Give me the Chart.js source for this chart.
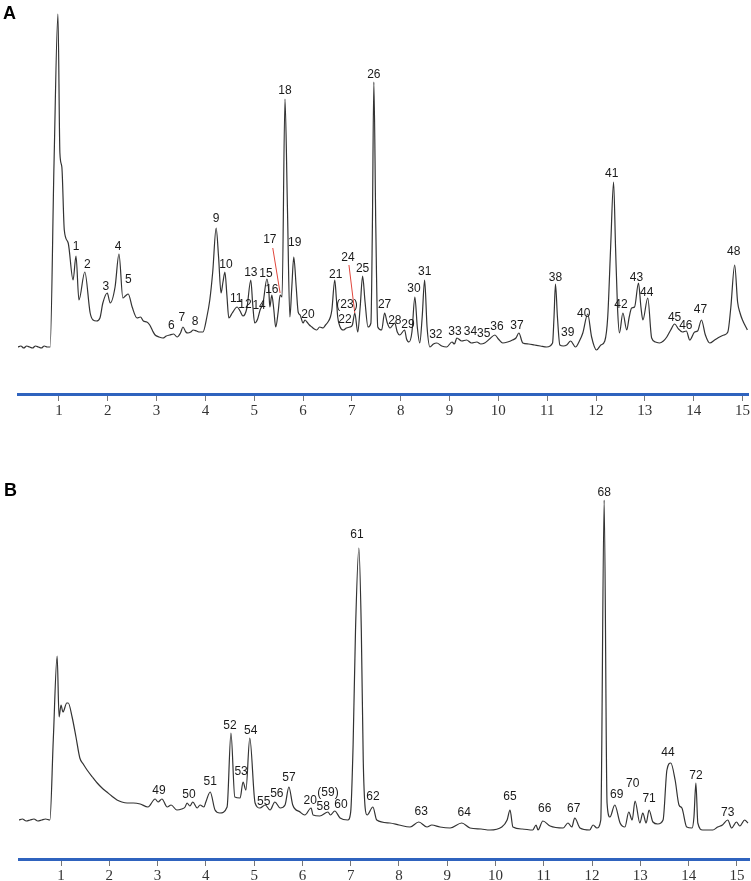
<!DOCTYPE html>
<html>
<head>
<meta charset="utf-8">
<script src="https://cdn.jsdelivr.net/npm/chart.js@4.4.1/dist/chart.umd.min.js"></script>
<style>
  body { margin: 0; background: #fff; }
  #wrap { position: relative; width: 751px; height: 881px; overflow: hidden; }
  canvas { position: absolute; left: 0; }
  .panel { position: absolute; font: bold 18px "Liberation Sans", Arial, sans-serif; color: #000; }
</style>
</head>
<body>
<div id="wrap">
  <canvas id="chartA" width="751" height="421" style="top:0"></canvas>
  <canvas id="chartB" width="751" height="426" style="top:460px"></canvas>
  <div class="panel" style="left:3px;top:3px">A</div>
  <div class="panel" style="left:4px;top:480px">B</div>
</div>
<script>
// retention time axis
var xTicks = [1, 2, 3, 4, 5, 6, 7, 8, 9, 10, 11, 12, 13, 14, 15];

// chromatogram A (time in min, signal)
var timeA = [0.16, 0.22, 0.28, 0.34, 0.40, 0.46, 0.52, 0.58, 0.64, 0.70, 0.76, 0.82, 0.90, 0.98, 1.02, 1.06, 1.11, 1.19, 1.29, 1.35,
  1.41, 1.53, 1.64, 1.70, 1.77, 1.84, 1.90, 1.99, 2.05, 2.15, 2.23, 2.31, 2.36, 2.42, 2.50, 2.60, 2.67, 2.73, 2.80, 2.86,
  2.92, 2.97, 3.05, 3.13, 3.20, 3.27, 3.35, 3.42, 3.49, 3.54, 3.60, 3.64, 3.70, 3.75, 3.82, 3.88, 3.95, 4.03, 4.09, 4.15,
  4.22, 4.27, 4.32, 4.36, 4.40, 4.44, 4.48, 4.55, 4.65, 4.71, 4.77, 4.85, 4.93, 4.97, 5.01, 5.07, 5.12, 5.18, 5.26, 5.30,
  5.32, 5.36, 5.40, 5.44, 5.49, 5.53, 5.57, 5.63, 5.68, 5.73, 5.77, 5.81, 5.86, 5.90, 5.94, 6.00, 6.04, 6.08, 6.13, 6.18,
  6.23, 6.28, 6.34, 6.41, 6.46, 6.51, 6.56, 6.59, 6.65, 6.68, 6.71, 6.76, 6.82, 6.89, 6.96, 7.01, 7.06, 7.12, 7.17, 7.22,
  7.27, 7.33, 7.39, 7.42, 7.45, 7.49, 7.53, 7.61, 7.67, 7.72, 7.78, 7.88, 7.93, 7.98, 8.08, 8.12, 8.17, 8.23, 8.29, 8.34,
  8.39, 8.44, 8.49, 8.54, 8.60, 8.67, 8.74, 8.84, 8.94, 9.05, 9.10, 9.15, 9.25, 9.35, 9.45, 9.56, 9.64, 9.72, 9.82, 9.93,
  10.00, 10.09, 10.19, 10.29, 10.36, 10.42, 10.50, 10.62, 10.74, 10.86, 10.99, 11.11, 11.14, 11.17, 11.21, 11.26, 11.33, 11.40, 11.48, 11.58,
  11.66, 11.73, 11.83, 11.91, 12.01, 12.10, 12.18, 12.24, 12.30, 12.36, 12.40, 12.44, 12.48, 12.55, 12.63, 12.68, 12.73, 12.79, 12.87, 12.92,
  12.96, 13.06, 13.14, 13.22, 13.30, 13.38, 13.45, 13.53, 13.61, 13.69, 13.77, 13.85, 13.92, 14.02, 14.08, 14.16, 14.24, 14.33, 14.43, 14.53,
  14.62, 14.70, 14.76, 14.84, 14.90, 14.95, 15.00, 15.10];
var signalA = [0, 1, -1, 1, 0, -1, 1, 0, -1, 1, 0, 0, 184, 333, 194, 180, 117, 104, 67, 91,
  47, 75, 34, 27, 26, 29, 44, 54, 44, 60, 93, 49, 51, 53, 40, 29, 30, 26, 25, 22,
  16, 12, 10, 9, 11, 12, 13, 10, 14, 20, 15, 14, 15, 17, 16, 15, 15, 30, 47, 75,
  119, 90, 54, 65, 75, 52, 29, 34, 40, 36, 31, 39, 67, 42, 24, 28, 37, 44, 68, 55,
  40, 52, 38, 20, 35, 52, 50, 248, 140, 30, 60, 90, 60, 35, 32, 24, 27, 25, 22, 20,
  18, 17, 20, 19, 22, 25, 30, 37, 67, 50, 30, 20, 17, 19, 20, 22, 34, 15, 40, 71,
  45, 20, 24, 120, 265, 120, 20, 17, 34, 25, 19, 24, 15, 12, 17, 8, 5, 15, 50, 20,
  4, 30, 67, 20, 0, 3, 4, 1, 0, 5, 3, 9, 6, 7, 4, 5, 3, 4, 8, 12,
  8, 4, 5, 7, 9, 14, 4, 3, 2, 1, 0, 4, 30, 63, 30, 2, 1, 2, 6, 0,
  6, 14, 33, 10, -3, 2, 6, 30, 100, 165, 100, 40, 14, 34, 17, 30, 39, 40, 64, 40,
  27, 49, 9, 5, 4, 6, 10, 17, 23, 18, 15, 16, 7, 15, 16, 27, 12, 4, 7, 10,
  12, 15, 39, 82, 45, 34, 27, 17];

// chromatogram B
var timeB = [0.13, 0.20, 0.28, 0.36, 0.44, 0.52, 0.60, 0.68, 0.77, 0.84, 0.92, 0.96, 1.00, 1.04, 1.12, 1.15, 1.23, 1.31, 1.39, 1.46,
  1.54, 1.65, 1.75, 1.85, 1.95, 2.05, 2.16, 2.26, 2.37, 2.50, 2.64, 2.80, 2.95, 3.01, 3.09, 3.20, 3.28, 3.40, 3.50, 3.57,
  3.61, 3.67, 3.73, 3.82, 3.88, 3.96, 4.00, 4.09, 4.19, 4.29, 4.44, 4.52, 4.60, 4.71, 4.77, 4.83, 4.91, 5.02, 5.12, 5.23,
  5.33, 5.43, 5.54, 5.64, 5.72, 5.80, 5.95, 6.05, 6.18, 6.22, 6.36, 6.53, 6.58, 6.67, 6.78, 6.94, 7.00, 7.05, 7.10, 7.17,
  7.22, 7.26, 7.30, 7.34, 7.46, 7.54, 7.81, 8.00, 8.23, 8.41, 8.58, 8.68, 8.85, 9.06, 9.30, 9.47, 9.70, 9.88, 10.13, 10.24,
  10.30, 10.36, 10.55, 10.77, 10.84, 10.88, 10.98, 11.13, 11.40, 11.50, 11.58, 11.64, 11.75, 11.95, 12.02, 12.10, 12.18, 12.25, 12.31, 12.37,
  12.47, 12.58, 12.68, 12.76, 12.83, 12.89, 12.99, 13.05, 13.12, 13.18, 13.26, 13.36, 13.47, 13.55, 13.63, 13.72, 13.80, 13.86, 13.96, 14.07,
  14.11, 14.15, 14.19, 14.29, 14.50, 14.60, 14.70, 14.81, 14.89, 14.99, 15.06, 15.16, 15.23];
var signalB = [0, 1, -1, 0, 1, -1, 0, 1, 0, 80, 164, 103, 115, 108, 117, 117, 103, 83, 62, 56,
  50, 43, 37, 32, 28, 24, 20, 18, 17, 17, 16, 13, 21, 18, 21, 13, 15, 10, 11, 13,
  17, 14, 18, 12, 15, 13, 18, 28, 10, 7, 13, 87, 23, 22, 38, 30, 82, 17, 12, 15,
  10, 18, 12, 15, 33, 15, 8, 5, 12, 5, 4, 8, 5, 9, 2, 0, 8, 75, 190, 272,
  190, 60, 12, 5, 13, 0, -3, -5, -7, -2, -7, -5, -7, -8, -3, -8, -9, -10, -7, 0,
  10, -7, -9, -10, -5, -10, -1, -6, -8, -3, -7, 2, -8, -10, -5, -8, 0, 320, 17, 3,
  15, -3, -7, 8, 0, 19, -3, 7, -3, 10, -2, -4, 0, 50, 57, 40, 15, 12, -7, -8,
  3, 37, -3, -10, -10, -7, -5, 0, -8, -2, -6, 0, -3];

// peak labels: name, time, label height (signal units)
var peakNamesA = ['1', '2', '3', '4', '5', '6', '7', '8', '9', '10', '11', '12', '13', '14', '15', '16', '17', '18', '19', '20',
  '21', '22', '(23)', '24', '25', '26', '27', '28', '29', '30', '31', '32', '33', '34', '35', '36', '37', '38', '39', '40',
  '41', '42', '43', '44', '45', '46', '47', '48'];
var peakTimesA = [1.35, 1.58, 1.96, 2.21, 2.42, 3.30, 3.52, 3.79, 4.22, 4.42, 4.63, 4.81, 4.93, 5.10, 5.24, 5.36, 5.32, 5.63, 5.83, 6.10,
  6.67, 6.86, 6.90, 6.92, 7.22, 7.45, 7.67, 7.88, 8.15, 8.27, 8.49, 8.72, 9.11, 9.43, 9.70, 9.97, 10.38, 11.17, 11.42, 11.75,
  12.32, 12.51, 12.83, 13.04, 13.61, 13.84, 14.14, 14.82];
var peakHeightsA = [100, 82, 60, 100, 67, 21, 29, 25, 128, 82, 48, 42, 74, 41, 73, 57, 107, 256, 104, 32,
  72, 27, 42, 89, 78, 272, 42, 26, 22, 58, 75, 12, 15, 15, 13, 20, 21, 69, 14, 33,
  173, 42, 69, 54, 29, 21, 37, 95];
// red leader lines in A: [t1, v1, t2, v2]
var leadersA = [[5.38, 99, 5.53, 54], [6.94, 82, 7.06, 34]];

var peakNamesB = ['49', '50', '51', '52', '53', '54', '55', '56', '57', '20', '58', '(59)', '60', '61', '62', '63', '64', '65', '66', '67',
  '68', '69', '70', '71', '44', '72', '73'];
var peakTimesB = [3.03, 3.65, 4.09, 4.50, 4.73, 4.93, 5.20, 5.47, 5.72, 6.16, 6.43, 6.53, 6.80, 7.13, 7.46, 8.46, 9.35, 10.30, 11.02, 11.62,
  12.25, 12.51, 12.84, 13.18, 13.57, 14.15, 14.81];
var peakHeightsB = [29, 25, 38, 94, 48, 89, 18, 26, 42, 19, 13, 27, 15, 285, 23, 8, 7, 23, 11, 11,
  327, 25, 36, 21, 67, 44, 7];

var peakLabels = {
  id: 'peakLabels',
  afterDatasetsDraw: function(chart, args, opts) {
    var ctx = chart.ctx, x = chart.scales.x, y = chart.scales.y;
    ctx.save();
    ctx.strokeStyle = '#e0463c';
    ctx.lineWidth = 1;
    opts.leaders.forEach(function(l) {
      ctx.beginPath();
      ctx.moveTo(x.getPixelForValue(l[0]), y.getPixelForValue(l[1]));
      ctx.lineTo(x.getPixelForValue(l[2]), y.getPixelForValue(l[3]));
      ctx.stroke();
    });
    ctx.font = '12px "Liberation Sans", Arial, sans-serif';
    ctx.fillStyle = '#1a1a1a';
    ctx.textAlign = 'center';
    ctx.textBaseline = 'middle';
    opts.names.forEach(function(n, i) {
      ctx.fillText(n, x.getPixelForValue(opts.times[i]), y.getPixelForValue(opts.heights[i]));
    });
    ctx.restore();
  }
};

function makeChart(id, times, signal, xRange, yRange, pad, labels) {
  return new Chart(document.getElementById(id), {
    type: 'line',
    data: {
      datasets: [{
        data: times.map(function(t, i) { return {x: t, y: signal[i]}; }),
        borderColor: '#333',
        borderWidth: 1.2,
        pointRadius: 0,
        cubicInterpolationMode: 'monotone',
        fill: false
      }]
    },
    options: {
      responsive: false,
      animation: false,
      layout: { padding: pad },
      plugins: {
        legend: { display: false },
        tooltip: { enabled: false },
        peakLabels: labels
      },
      scales: {
        x: {
          type: 'linear',
          min: xRange[0],
          max: xRange[1],
          afterBuildTicks: function(axis) {
            axis.ticks = xTicks.map(function(v) { return {value: v}; });
          },
          grid: { drawOnChartArea: false, tickLength: 7, color: '#777' },
          border: { color: '#2f63be', width: 3 },
          ticks: {
            padding: 1,
            autoSkip: false,
            maxRotation: 0,
            color: '#333',
            font: { family: '"Liberation Serif", "DejaVu Serif", serif', size: 15 }
          }
        },
        y: {
          display: false,
          min: yRange[0],
          max: yRange[1]
        }
      }
    },
    plugins: [peakLabels]
  });
}

makeChart('chartA', timeA, signalA, [0.162, 15.12], [-47, 337],
  {top: 10, left: 18, right: 2, bottom: 0},
  {names: peakNamesA, times: peakTimesA, heights: peakHeightsA, leaders: leadersA});

makeChart('chartB', timeB, signalB, [0.13, 15.25], [-39, 330],
  {top: 30, left: 19, right: 2, bottom: 0},
  {names: peakNamesB, times: peakTimesB, heights: peakHeightsB, leaders: []});
</script>
</body>
</html>
